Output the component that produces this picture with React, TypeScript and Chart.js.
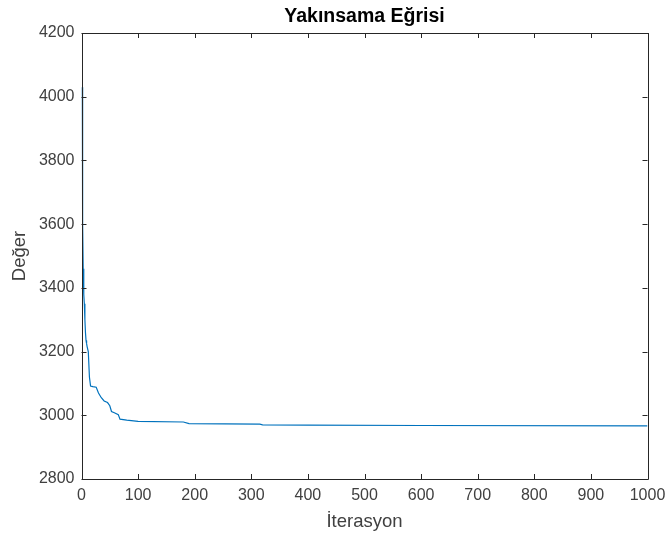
import React, { useEffect, useRef } from "react";
import { Chart, registerables } from "chart.js";

Chart.register(...registerables);

const iterations = [1, 2, 3, 4, 5, 6, 7, 8, 9, 10, 12, 14, 16, 20, 26, 30, 35, 40, 46, 50, 53, 58, 65, 68, 80, 100, 180, 190, 315, 320, 400, 600, 1000];
const values = [4030, 3600, 3460, 3380, 3350, 3300, 3260, 3235, 3225, 3215, 3200, 3120, 3092, 3090, 3088, 3070, 3055, 3045, 3040, 3030, 3012, 3008, 3002, 2988, 2985, 2981, 2979, 2974, 2972, 2970, 2969, 2968, 2967];

const titleText = "Yakınsama Eğrisi";
const xTitle = "İterasyon";
const yTitle = "Değer";
const xTicks = [0, 100, 200, 300, 400, 500, 600, 700, 800, 900, 1000];
const yTicks = [2800, 3000, 3200, 3400, 3600, 3800, 4000, 4200];

const FONT = "'Liberation Sans', Arial, Helvetica, sans-serif";
const AXIS = "#262626";
const TEXT = "#404040";

const boxPlugin = {
  id: "matlabBox",
  afterDraw(chart: any) {
    const { ctx, chartArea } = chart;
    const { left, right, top, bottom } = chartArea;
    const xs = chart.scales.x;
    const ys = chart.scales.y;
    const len = 5;
    ctx.save();
    ctx.strokeStyle = AXIS;
    ctx.lineWidth = 1;
    ctx.beginPath();
    ctx.rect(Math.round(left) + 0.5, Math.round(top) + 0.5, Math.round(right - left), Math.round(bottom - top));
    for (const v of xTicks) {
      const px = Math.round(xs.getPixelForValue(v)) + 0.5;
      ctx.moveTo(px, bottom);
      ctx.lineTo(px, bottom - len);
      ctx.moveTo(px, top);
      ctx.lineTo(px, top + len);
    }
    for (const v of yTicks) {
      const py = Math.round(ys.getPixelForValue(v)) + 0.5;
      ctx.moveTo(left, py);
      ctx.lineTo(left + len, py);
      ctx.moveTo(right, py);
      ctx.lineTo(right - len, py);
    }
    ctx.stroke();
    ctx.fillStyle = "#000";
    ctx.font = "bold 19.5px " + FONT;
    ctx.textAlign = "center";
    ctx.textBaseline = "middle";
    ctx.fillText(titleText, (left + right) / 2, 17);
    ctx.restore();
  },
};

export default function App() {
  const ref = useRef<HTMLCanvasElement | null>(null);
  useEffect(() => {
    document.body.style.margin = "0";
    const canvas = ref.current!;
    const data = iterations.map((it, i) => ({ x: it, y: values[i] }));
    const chart = new Chart(canvas, {
      type: "line",
      data: {
        datasets: [
          {
            data,
            borderColor: "rgb(0,114,189)",
            borderWidth: 1.2,
            pointRadius: 0,
            tension: 0,
            fill: false,
          },
        ],
      },
      options: {
        responsive: false,
        animation: false,
        devicePixelRatio: 1,
        layout: { padding: { left: 0, right: 17.5, top: 33, bottom: 0 } },
        plugins: {
          legend: { display: false },
          tooltip: { enabled: false },
          title: { display: false },
        },
        scales: {
          x: {
            type: "linear",
            min: 0,
            max: 1000,
            afterBuildTicks(scale: any) {
              scale.ticks = xTicks.map((v) => ({ value: v }));
            },
            afterFit(scale: any) {
              scale.height = 58;
              scale.paddingLeft = 0;
              scale.paddingRight = 0;
            },
            grid: { display: false, drawTicks: false },
            border: { display: false },
            ticks: {
              color: TEXT,
              padding: 7,
              maxRotation: 0,
              autoSkip: false,
              font: { family: FONT, size: 16 },
              callback: (v: any) => String(v),
            },
            title: {
              display: true,
              text: xTitle,
              color: TEXT,
              font: { family: FONT, size: 18.5 },
              padding: { top: 0, bottom: 4 },
            },
          },
          y: {
            type: "linear",
            min: 2800,
            max: 4200,
            afterBuildTicks(scale: any) {
              scale.ticks = yTicks.map((v) => ({ value: v }));
            },
            afterFit(scale: any) {
              scale.width = 81.5;
              scale.paddingTop = 0;
              scale.paddingBottom = 0;
            },
            grid: { display: false, drawTicks: false },
            border: { display: false },
            ticks: {
              color: TEXT,
              padding: 7,
              autoSkip: false,
              font: { family: FONT, size: 16 },
              callback: (v: any) => String(v),
            },
            title: {
              display: true,
              text: yTitle,
              color: TEXT,
              font: { family: FONT, size: 18.5 },
              padding: { top: 9, bottom: 0 },
            },
          },
        },
      },
      plugins: [boxPlugin],
    });
    return () => chart.destroy();
  }, []);
  return <canvas ref={ref} width={665} height={537} style={{ display: "block" }} />;
}
